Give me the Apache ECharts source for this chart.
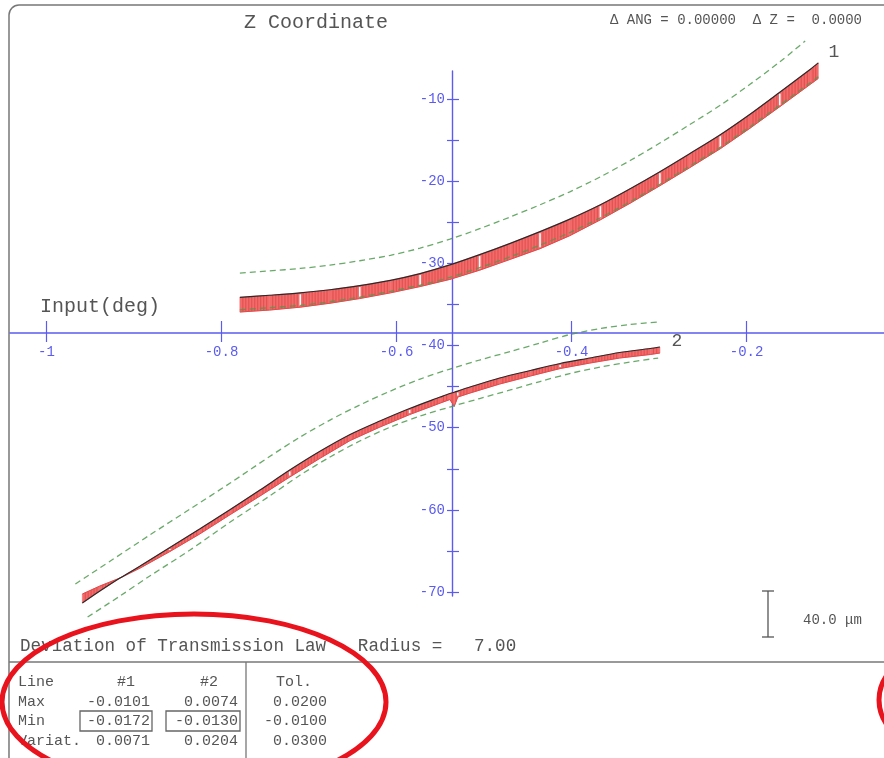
<!DOCTYPE html>
<html><head><meta charset="utf-8">
<script src="https://cdn.jsdelivr.net/npm/echarts@6/dist/echarts.min.js"></script>
<style>html,body{margin:0;padding:0;background:#fff}#c{width:884px;height:758px}</style>
</head><body><div id="c"></div>
<script>
// ---- axis ticks ----
const xTicks = [-1, -0.8, -0.6, -0.4, -0.2];
const yTicks = [-70, -60, -50, -40, -30, -20, -10];
const yAllTicks = [-70, -65, -60, -55, -50, -45, -40, -35, -30, -25, -20, -15, -10];

// ---- line 1 ----
const c1X   = [-0.779,-0.745,-0.710,-0.676,-0.642,-0.607,-0.573,-0.539,-0.505,-0.470,-0.436,-0.402,-0.367,-0.333,-0.299,-0.265,-0.230,-0.196,-0.162,-0.127,-0.118];
const c1Nom = [-34.13,-33.88,-33.59,-33.21,-32.70,-32.07,-31.24,-30.19,-28.94,-27.56,-26.14,-24.62,-22.87,-20.92,-18.85,-16.66,-14.35,-11.85,-9.17,-6.37,-5.60];
const c1Act = [-35.92,-35.68,-35.33,-34.85,-34.28,-33.59,-32.82,-31.95,-30.83,-29.51,-28.21,-26.63,-24.70,-22.68,-20.55,-18.36,-16.05,-13.55,-10.93,-8.20,-7.49];
const c1Low = [-35.65,-35.40,-35.11,-34.67,-34.10,-33.41,-32.64,-31.71,-30.52,-29.20,-27.78,-26.26,-24.45,-22.50,-20.37,-18.18,-15.87,-13.37,-10.75,-8.01,-7.30];
const c1UpX = [-0.779,-0.745,-0.710,-0.676,-0.642,-0.607,-0.573,-0.539,-0.505,-0.470,-0.436,-0.402,-0.367,-0.333,-0.299,-0.265,-0.230,-0.196,-0.162,-0.133];
const c1Up  = [-31.18,-30.92,-30.62,-30.22,-29.68,-29.02,-28.15,-27.06,-25.78,-24.35,-22.87,-21.29,-19.47,-17.48,-15.36,-13.12,-10.76,-8.21,-5.48,-2.95];

// ---- line 2 ----
const c2X   = [-0.959,-0.939,-0.916,-0.893,-0.859,-0.825,-0.790,-0.756,-0.722,-0.687,-0.653,-0.619,-0.585,-0.550,-0.539,-0.534,-0.530,-0.516,-0.482,-0.447,-0.413,-0.379,-0.345,-0.310,-0.299];
const c2Nom = [-71.34,-69.88,-68.29,-66.83,-64.58,-62.33,-59.96,-57.58,-55.15,-52.84,-50.83,-49.19,-47.67,-46.27,-45.84,-45.68,-45.54,-45.05,-43.95,-43.04,-42.19,-41.52,-40.85,-40.36,-40.18];
const c2Act = [-70.24,-69.27,-68.29,-67.08,-65.07,-62.94,-60.57,-58.31,-56.00,-53.69,-51.56,-49.92,-48.40,-47.00,-46.57,-47.39,-46.27,-45.78,-44.68,-43.71,-42.80,-42.13,-41.52,-41.09,-40.91];
const c2UpX = [-0.967,-0.927,-0.882,-0.836,-0.790,-0.745,-0.710,-0.676,-0.642,-0.607,-0.573,-0.539,-0.505,-0.470,-0.436,-0.402,-0.367,-0.333,-0.302];
const c2Up  = [-69.02,-66.22,-63.06,-59.90,-56.73,-53.51,-51.13,-49.07,-47.24,-45.54,-44.08,-42.86,-41.76,-40.73,-39.69,-38.66,-37.93,-37.44,-37.14];
const c2LowX= [-0.953,-0.916,-0.882,-0.836,-0.790,-0.745,-0.710,-0.676,-0.642,-0.607,-0.573,-0.539,-0.505,-0.470,-0.436,-0.402,-0.367,-0.333,-0.301];
const c2Low = [-73.04,-70.48,-68.05,-64.89,-61.48,-58.31,-55.76,-53.57,-51.62,-49.92,-48.58,-47.48,-46.45,-45.41,-44.38,-43.41,-42.62,-42.01,-41.52];

// ---- table ----
const rowNames = ['Line', 'Max', 'Min', 'Variat.'];
const col1 = ['#1', '-0.0101', '-0.0172', '0.0071'];
const col2 = ['#2', '0.0074', '-0.0130', '0.0204'];
const colTol = ['Tol.', '0.0200', '-0.0100', '0.0300'];

const FONT = "'Liberation Mono', 'DejaVu Sans Mono', monospace";
const BLUE = '#5b5bf0';
const GRAY = '#555';
const GREEN = '#4f9a4f';

function pairs(xs, ys) { return xs.map((x, i) => [x, ys[i]]); }

function bandItem(xs, nom, act, whiteEvery) {
  return function (params, api) {
    const i = params.dataIndex;
    if (i >= xs.length - 1) return null;
    const a = api.coord([xs[i], nom[i]]);
    const b = api.coord([xs[i + 1], nom[i + 1]]);
    const c = api.coord([xs[i + 1], act[i + 1]]);
    const d = api.coord([xs[i], act[i]]);
    const children = [{
      type: 'polygon', shape: { points: [a, b, c, d] },
      style: { fill: '#f26a6a', stroke: '#f26a6a', lineWidth: 0.6 }
    }];
    const n = Math.max(2, Math.round((b[0] - a[0]) / 3));
    for (let k = 1; k < n; k++) {
      const t = k / n;
      const tx = a[0] + (b[0] - a[0]) * t, ty = a[1] + (b[1] - a[1]) * t;
      const bx = d[0] + (c[0] - d[0]) * t, by = d[1] + (c[1] - d[1]) * t;
      children.push({ type: 'line', shape: { x1: tx, y1: ty, x2: bx, y2: by },
        style: { stroke: 'rgba(205,45,45,0.45)', lineWidth: 1 } });
    }
    children.push({ type: 'line', shape: { x1: d[0], y1: d[1], x2: c[0], y2: c[1] },
      style: { stroke: '#e04a4a', lineWidth: 1 } });
    if (whiteEvery && i > 0 && i % whiteEvery === 0) {
      children.push({ type: 'line', shape: { x1: a[0], y1: a[1] + 1.5, x2: d[0], y2: d[1] - 1.5 },
        style: { stroke: '#ffffff', lineWidth: 1.6 } });
    }
    return { type: 'group', children };
  };
}

const chart = echarts.init(document.getElementById('c'), null, { renderer: 'canvas' });

const xMin = -1.0417, xMax = -0.0429, yMin = -70.48, yMax = -6.59;

const baseX = {
  type: 'value', min: xMin, max: xMax, position: 'bottom', offset: -263,
  splitLine: { show: false }
};
const baseY = {
  type: 'value', min: yMin, max: yMax, position: 'left', offset: -442,
  splitLine: { show: false }
};

const tableGraphics = [];
const rowY = [682, 702, 721, 741];
rowNames.forEach((r, i) => {
  tableGraphics.push({ type: 'text', x: 18, y: rowY[i], style: { text: r, font: '15px ' + FONT, fill: GRAY, textVerticalAlign: 'middle' } });
});
[[col1, 150, 126], [col2, 238, 209], [colTol, 327, 294]].forEach(([col, right, center]) => {
  col.forEach((v, i) => {
    tableGraphics.push({ type: 'text', x: i === 0 ? center : right, y: rowY[i],
      style: { text: v, font: '15px ' + FONT, fill: GRAY, textAlign: i === 0 ? 'center' : 'right', textVerticalAlign: 'middle' } });
  });
});

const option = {
  animation: false,
  backgroundColor: '#ffffff',
  grid: { left: 10, right: 0, top: 71, bottom: 162, containLabel: false },
  xAxis: [
    Object.assign({}, baseX, {
      axisLine: { show: true, onZero: false, lineStyle: { color: BLUE, width: 1.6 } },
      axisTick: { show: true, inside: false, length: 9, customValues: xTicks, lineStyle: { color: BLUE, width: 1.2 } },
      axisLabel: { show: true, customValues: xTicks, margin: 12, color: BLUE, fontFamily: FONT, fontSize: 14 }
    }),
    Object.assign({}, baseX, {
      axisLine: { show: false, onZero: false },
      axisTick: { show: true, inside: true, length: 12, customValues: xTicks, lineStyle: { color: BLUE, width: 1.2 } },
      axisLabel: { show: false }
    })
  ],
  yAxis: [
    Object.assign({}, baseY, {
      axisLine: { show: true, onZero: false, lineStyle: { color: BLUE, width: 1.4 } },
      axisTick: { show: true, inside: false, length: 5, customValues: yAllTicks, lineStyle: { color: BLUE, width: 1.2 } },
      axisLabel: { show: true, customValues: yTicks, margin: 7, color: BLUE, fontFamily: FONT, fontSize: 14 }
    }),
    Object.assign({}, baseY, {
      axisLine: { show: false, onZero: false },
      axisTick: { show: true, inside: true, length: 7, customValues: yAllTicks, lineStyle: { color: BLUE, width: 1.2 } },
      axisLabel: { show: false }
    })
  ],
  series: [
    { type: 'custom', name: 'band1', xAxisIndex: 0, yAxisIndex: 0, clip: false, z: 2,
      renderItem: bandItem(c1X, c1Nom, c1Act, 2),
      data: c1X.map((x, i) => [x, c1Nom[i], c1Act[i]]), encode: { x: 0, y: [1, 2] } },
    { type: 'custom', name: 'band2', xAxisIndex: 0, yAxisIndex: 0, clip: false, z: 2,
      renderItem: bandItem(c2X, c2Nom, c2Act, 4),
      data: c2X.map((x, i) => [x, c2Nom[i], c2Act[i]]), encode: { x: 0, y: [1, 2] } },
    { type: 'line', name: 'tolUp1', data: pairs(c1UpX, c1Up), smooth: 0.3, symbol: 'none', clip: false, z: 3,
      lineStyle: { color: GREEN, width: 1.3, type: [6, 4], opacity: 0.85 } },
    { type: 'line', name: 'tolLow1', data: pairs(c1X, c1Low), smooth: 0.3, symbol: 'none', clip: false, z: 3,
      lineStyle: { color: GREEN, width: 1.3, type: [6, 4], opacity: 0.8 } },
    { type: 'line', name: 'tolUp2', data: pairs(c2UpX, c2Up), smooth: 0.3, symbol: 'none', clip: false, z: 3,
      lineStyle: { color: GREEN, width: 1.3, type: [6, 4], opacity: 0.85 } },
    { type: 'line', name: 'tolLow2', data: pairs(c2LowX, c2Low), smooth: 0.3, symbol: 'none', clip: false, z: 3,
      lineStyle: { color: GREEN, width: 1.3, type: [6, 4], opacity: 0.85 } },
    { type: 'line', name: 'line1', data: pairs(c1X, c1Nom), smooth: 0.3, symbol: 'none', clip: false, z: 4,
      lineStyle: { color: '#2a2a2a', width: 1.2 } },
    { type: 'line', name: 'line2', data: pairs(c2X, c2Nom), smooth: 0.3, symbol: 'none', clip: false, z: 4,
      lineStyle: { color: '#2a2a2a', width: 1.2 } }
  ],
  graphic: [
    { type: 'rect', shape: { x: 9, y: 5, width: 920, height: 820, r: 10 }, style: { fill: 'none', stroke: '#777', lineWidth: 1.5 }, z: 0 },
    { type: 'line', shape: { x1: 9, y1: 662, x2: 884, y2: 662 }, style: { stroke: '#777', lineWidth: 1.3 } },
    { type: 'line', shape: { x1: 246, y1: 662, x2: 246, y2: 758 }, style: { stroke: '#777', lineWidth: 1.3 } },
    { type: 'text', x: 316, y: 23, style: { text: 'Z Coordinate', font: '20px ' + FONT, fill: GRAY, textAlign: 'center', textVerticalAlign: 'middle' } },
    { type: 'text', x: 862, y: 20, style: { text: '\u0394 ANG = 0.00000  \u0394 Z =  0.0000', font: '14px ' + FONT, fill: GRAY, textAlign: 'right', textVerticalAlign: 'middle' } },
    { type: 'text', x: 40, y: 307, style: { text: 'Input(deg)', font: '20px ' + FONT, fill: GRAY, textVerticalAlign: 'middle' } },
    { type: 'text', x: 834, y: 52, style: { text: '1', font: '18px ' + FONT, fill: GRAY, textAlign: 'center', textVerticalAlign: 'middle' } },
    { type: 'text', x: 677, y: 341, style: { text: '2', font: '18px ' + FONT, fill: GRAY, textAlign: 'center', textVerticalAlign: 'middle' } },
    { type: 'text', x: 20, y: 646, style: { text: 'Deviation of Transmission Law   Radius =   7.00', font: '17.6px ' + FONT, fill: GRAY, textVerticalAlign: 'middle' } },
    { type: 'line', shape: { x1: 768, y1: 591, x2: 768, y2: 637 }, style: { stroke: GRAY, lineWidth: 1.3 } },
    { type: 'line', shape: { x1: 762, y1: 591, x2: 774, y2: 591 }, style: { stroke: GRAY, lineWidth: 1.3 } },
    { type: 'line', shape: { x1: 762, y1: 637, x2: 774, y2: 637 }, style: { stroke: GRAY, lineWidth: 1.3 } },
    { type: 'text', x: 803, y: 620, style: { text: '40.0 \u03bcm', font: '14px ' + FONT, fill: GRAY, textVerticalAlign: 'middle' } },
    { type: 'rect', shape: { x: 80, y: 711, width: 72, height: 20 }, style: { fill: 'none', stroke: '#666', lineWidth: 1.3 } },
    { type: 'rect', shape: { x: 166, y: 711, width: 74, height: 20 }, style: { fill: 'none', stroke: '#666', lineWidth: 1.3 } },
    ...tableGraphics,
    { type: 'ellipse', shape: { cx: 194, cy: 702, rx: 192, ry: 88 }, style: { fill: 'none', stroke: '#e8131c', lineWidth: 5 }, z: 100 },
    { type: 'ellipse', shape: { cx: 965, cy: 700, rx: 86, ry: 58 }, style: { fill: 'none', stroke: '#e8131c', lineWidth: 5 }, z: 100 }
  ]
};
chart.setOption(option);
</script>
</body></html>
